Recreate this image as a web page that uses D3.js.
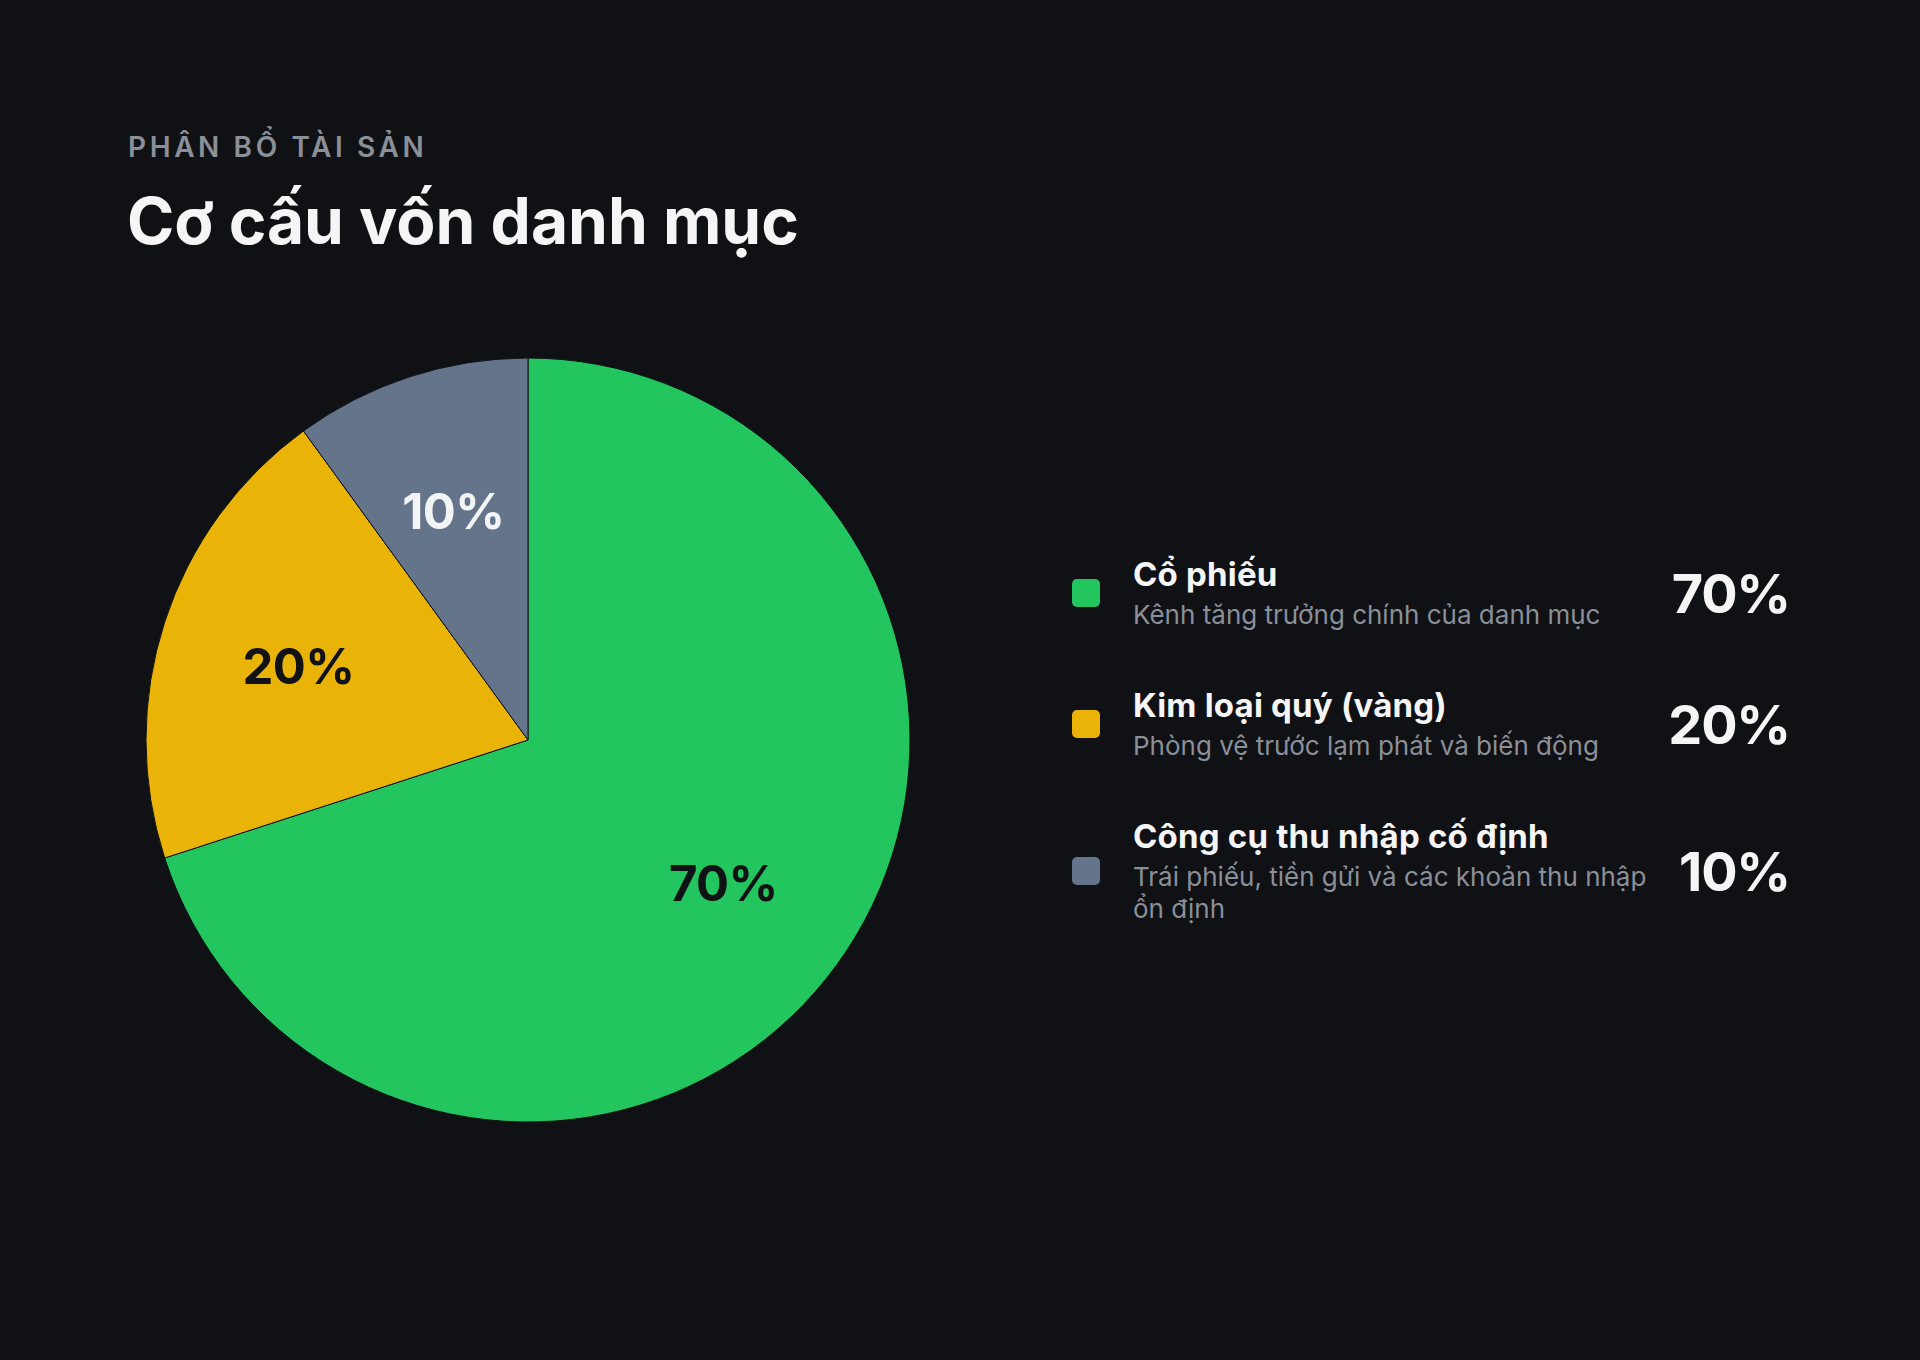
<!DOCTYPE html>
<html>
<head>
<meta charset="utf-8">
<script src="https://cdn.jsdelivr.net/npm/d3@7"></script>
<style>
  html, body { margin: 0; padding: 0; background: #0f1115; }
  svg { display: block; font-family: Inter, "Noto Sans", sans-serif; }
</style>
</head>
<body>
<div id="chart"></div>
<script>
//Chart data
const categories = ["Cổ phiếu", "Kim loại quý (vàng)", "Công cụ thu nhập cố định"];
const descriptions = [
    "Kênh tăng trưởng chính của danh mục",
    "Phòng vệ trước lạm phát và biến động",
    "Trái phiếu, tiền gửi và các khoản thu nhập ổn định"
];
const shares = [70, 20, 10];
const colours = ["#22c55e", "#eab308", "#64748b"];
const labelColours = ["#111216", "#111216", "#f3f4f6"];

//Canvas size
const w = 1920;
const h = 1360;

const svg = d3.select("#chart")
    .append("svg")
    .attr("width", w)
    .attr("height", h);

//Background
svg.append("rect")
    .attr("width", w)
    .attr("height", h)
    .attr("fill", "#0f1115");

//Headings
svg.append("text")
    .attr("x", 128)
    .attr("y", 157)
    .attr("fill", "#8b8f98")
    .attr("font-size", 28)
    .attr("font-weight", 600)
    .attr("letter-spacing", 3.6)
    .text("PHÂN BỔ TÀI SẢN");

svg.append("text")
    .attr("x", 127)
    .attr("y", 244)
    .attr("fill", "#f5f5f5")
    .attr("font-size", 64)
    .attr("font-weight", 700)
    .text("Cơ cấu vốn danh mục");

//Pie
const cx = 528, cy = 740, radius = 382;

const pie = d3.pie().sort(null).value(d => d.value);
const data = categories.map((c, i) => ({name: c, value: shares[i], i: i}));
const arcs = pie(data);

const arc = d3.arc().innerRadius(0).outerRadius(radius);
const labelArc = d3.arc().innerRadius(radius * 0.632).outerRadius(radius * 0.632);

const pieG = svg.append("g").attr("transform", `translate(${cx},${cy})`);

pieG.selectAll("path")
    .data(arcs)
    .enter()
    .append("path")
    .attr("d", arc)
    .attr("fill", d => colours[d.data.i])
    .attr("stroke", "#0f1115")
    .attr("stroke-width", 1);

pieG.selectAll("text")
    .data(arcs)
    .enter()
    .append("text")
    .attr("transform", d => `translate(${labelArc.centroid(d)})`)
    .attr("text-anchor", "middle")
    .attr("dy", "0.38em")
    .attr("font-size", 49)
    .attr("font-weight", 700)
    .attr("letter-spacing", -0.6)
    .attr("fill", d => labelColours[d.data.i])
    .text(d => d.data.value + "%");

//Legend
const legendX = 1072;
const textX = 1133;
const valueX = 1790;
const wrapWidth = 522;
const nameLH = 42, descLH = 32, rowGap = 57;

const legend = svg.append("g");

//Build rows and wrap descriptions
let rows = [];
data.forEach((d, i) => {
    let g = legend.append("g");
    let desc = g.append("text")
        .attr("x", textX)
        .attr("font-size", 26)
        .attr("fill", "#8b8f98");
    //Split description into lines
    let words = descriptions[i].split(" ");
    let lines = [];
    let line = [];
    let probe = desc.append("tspan");
    words.forEach(word => {
        line.push(word);
        probe.text(line.join(" "));
        if (probe.node().getComputedTextLength() > wrapWidth && line.length > 1) {
            line.pop();
            lines.push(line.join(" "));
            line = [word];
        }
    });
    lines.push(line.join(" "));
    probe.remove();
    rows.push({g: g, desc: desc, lines: lines, height: nameLH + descLH * lines.length});
});

const totalHeight = d3.sum(rows, r => r.height) + rowGap * (rows.length - 1);
let rowTop = cy - totalHeight / 2;

rows.forEach((r, i) => {
    const mid = rowTop + r.height / 2;

    r.g.append("rect")
        .attr("x", legendX)
        .attr("y", mid - 14)
        .attr("width", 28)
        .attr("height", 28)
        .attr("rx", 5)
        .attr("fill", colours[i]);

    r.g.append("text")
        .attr("x", textX)
        .attr("y", rowTop + 30)
        .attr("font-size", 33)
        .attr("font-weight", 700)
        .attr("letter-spacing", 0.2)
        .attr("fill", "#f5f5f5")
        .text(categories[i]);

    r.desc.selectAll("tspan")
        .data(r.lines)
        .enter()
        .append("tspan")
        .attr("x", textX)
        .attr("y", (l, k) => rowTop + 68 + k * descLH)
        .text(l => l);

    r.g.append("text")
        .attr("x", valueX)
        .attr("y", mid + 20)
        .attr("text-anchor", "end")
        .attr("font-size", 54)
        .attr("font-weight", 700)
        .attr("letter-spacing", -1.2)
        .attr("fill", "#f5f5f5")
        .text(shares[i] + "%");

    rowTop += r.height + rowGap;
});
</script>
</body>
</html>
